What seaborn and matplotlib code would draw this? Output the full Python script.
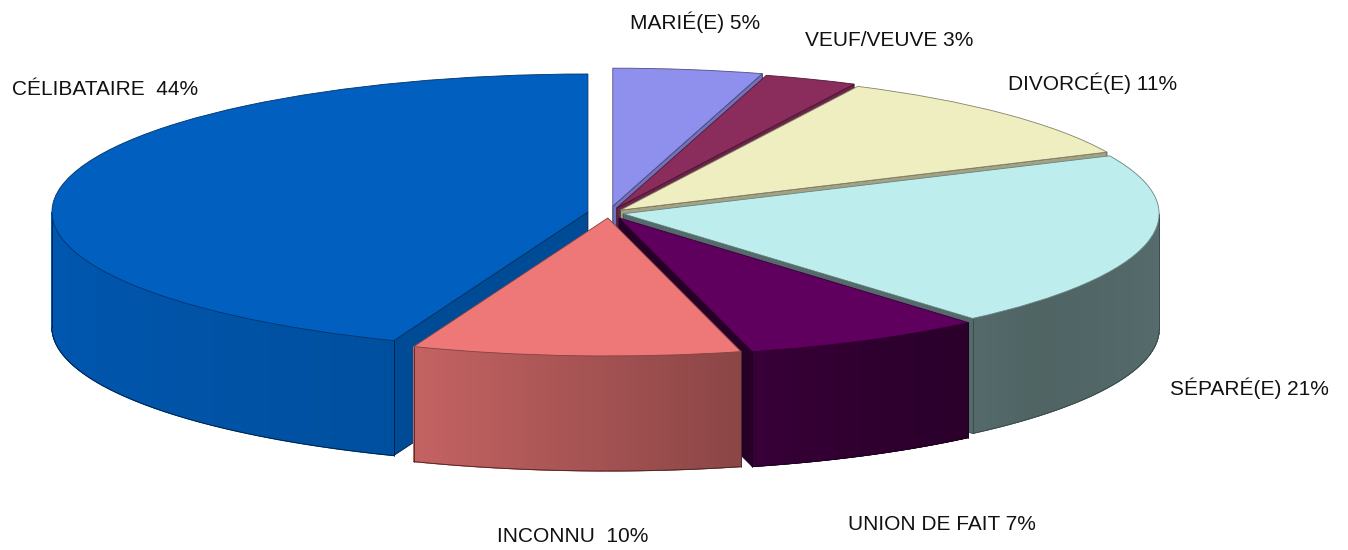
import numpy as np
import matplotlib
matplotlib.use("Agg")
import matplotlib.pyplot as plt
from matplotlib.collections import PolyCollection
from matplotlib.patches import Polygon
from matplotlib.colors import to_rgb
import seaborn as sns

# slices, clockwise from 12 o'clock (shares in %)
categories = ["MARIÉ(E)", "VEUF/VEUVE", "DIVORCÉ(E)", "SÉPARÉ(E)", "UNION DE FAIT", "INCONNU", "CÉLIBATAIRE"]
values = [4.5, 2.8, 10.8, 20.6, 7.3, 9.9, 44.1]
label_gap = [" ", " ", " ", " ", " ", "  ", "  "]
colors = ["#8F8FEE", "#8B2D5C", "#EEEEC0", "#BDEDED", "#5F005F", "#EE7777", "#005FBF"]
explode = [0.05, 0.04, 0.03, 0.027, 0.04, 0.036, 0.04]
# label anchors (left edge, vertical centre) in figure pixels
label_px = [(630, 22), (805, 40), (1008, 83), (1170, 388), (848, 524), (497, 536), (12, 90)]

W, H = 1348, 550
sns.set_theme(style="white")
plt.rcParams['font.family'] = ['Liberation Sans', 'DejaVu Sans']

# side-wall lighting by angle (light from the left)
light_t = [180, 247, 282, 300, 320, 360]
light_f = [0.93, 0.84, 0.6, 0.48, 0.42, 0.46]


def shade(c, f):
    return tuple(np.clip(np.array(to_rgb(c)) * f, 0, 1))


def light(theta):
    return np.interp(np.degrees(theta) % 360, light_t, light_f, left=0.93, right=0.46)


fig = plt.figure(figsize=(W / 100, H / 100), dpi=100)
ax = fig.add_axes([0, 0, 1, 1])
wedges, _ = ax.pie(values, colors=colors, explode=explode, startangle=90,
                   counterclock=False, wedgeprops=dict(linewidth=0.6))
ax.set_aspect('auto')
cx_px, cy_px, a_px, b_px = 609, 213, 536, 138
ax.set_xlim(-cx_px / a_px, (W - cx_px) / a_px)
ax.set_ylim(-(H - cy_px) / b_px, cy_px / b_px)
ax.axis('off')
depth = 115 / b_px


def depth_key(w):
    mid = np.radians((w.theta1 + w.theta2) / 2)
    return w.center[1] + 0.5 * w.r * np.sin(mid)


order = sorted(range(len(wedges)), key=lambda i: -depth_key(wedges[i]))

for rank, i in enumerate(order):
    w = wedges[i]
    c = colors[i]
    z = 10 + rank * 5
    cx, cy = w.center
    r = w.r
    t1, t2 = w.theta1, w.theta2

    # radial cut walls facing the viewer
    for t, n in [(t1, t1 - 90), (t2, t2 + 90)]:
        tr, nr = np.radians(t), np.radians(n)
        if np.sin(nr) < -0.01:
            ex, ey = cx + r * np.cos(tr), cy + r * np.sin(tr)
            poly = [(cx, cy), (ex, ey), (ex, ey - depth), (cx, cy - depth)]
            ax.add_patch(Polygon(poly, closed=True, facecolor=shade(c, 0.6 + 0.2 * np.cos(nr)),
                                 edgecolor=shade(c, 0.3), linewidth=0.6, zorder=z))

    # outer curved wall, front half only
    ts = np.radians(np.linspace(t1, t2, 500))
    vis = np.sin(ts) < 0
    if vis.any():
        tv = ts[vis]
        polys, fcs = [], []
        for k in range(len(tv) - 1):
            p, q = tv[k], tv[k + 1]
            polys.append([(cx + r * np.cos(p), cy + r * np.sin(p)),
                          (cx + r * np.cos(q), cy + r * np.sin(q)),
                          (cx + r * np.cos(q), cy + r * np.sin(q) - depth),
                          (cx + r * np.cos(p), cy + r * np.sin(p) - depth)])
            fcs.append(shade(c, light((p + q) / 2)))
        ax.add_collection(PolyCollection(polys, facecolors=fcs, edgecolors=fcs,
                                         linewidths=0.8, zorder=z + 1))
        bx = cx + r * np.cos(tv)
        by = cy + r * np.sin(tv) - depth
        ax.plot(bx, by, color=shade(c, 0.3), lw=0.6, zorder=z + 2)
        for tt in (tv[0], tv[-1]):
            ex, ey = cx + r * np.cos(tt), cy + r * np.sin(tt)
            ax.plot([ex, ex], [ey, ey - depth], color=shade(c, 0.3), lw=0.6, zorder=z + 2)

    w.set_edgecolor(shade(c, 0.55))
    w.set_zorder(z + 3)

for name, v, gap, (x, y) in zip(categories, values, label_gap, label_px):
    fig.text(x / W, 1 - y / H, f"{name}{gap}{int(v + 0.5)}%", fontsize=15,
             ha='left', va='center', color='#111111')

fig.savefig("out.png", dpi=100)
